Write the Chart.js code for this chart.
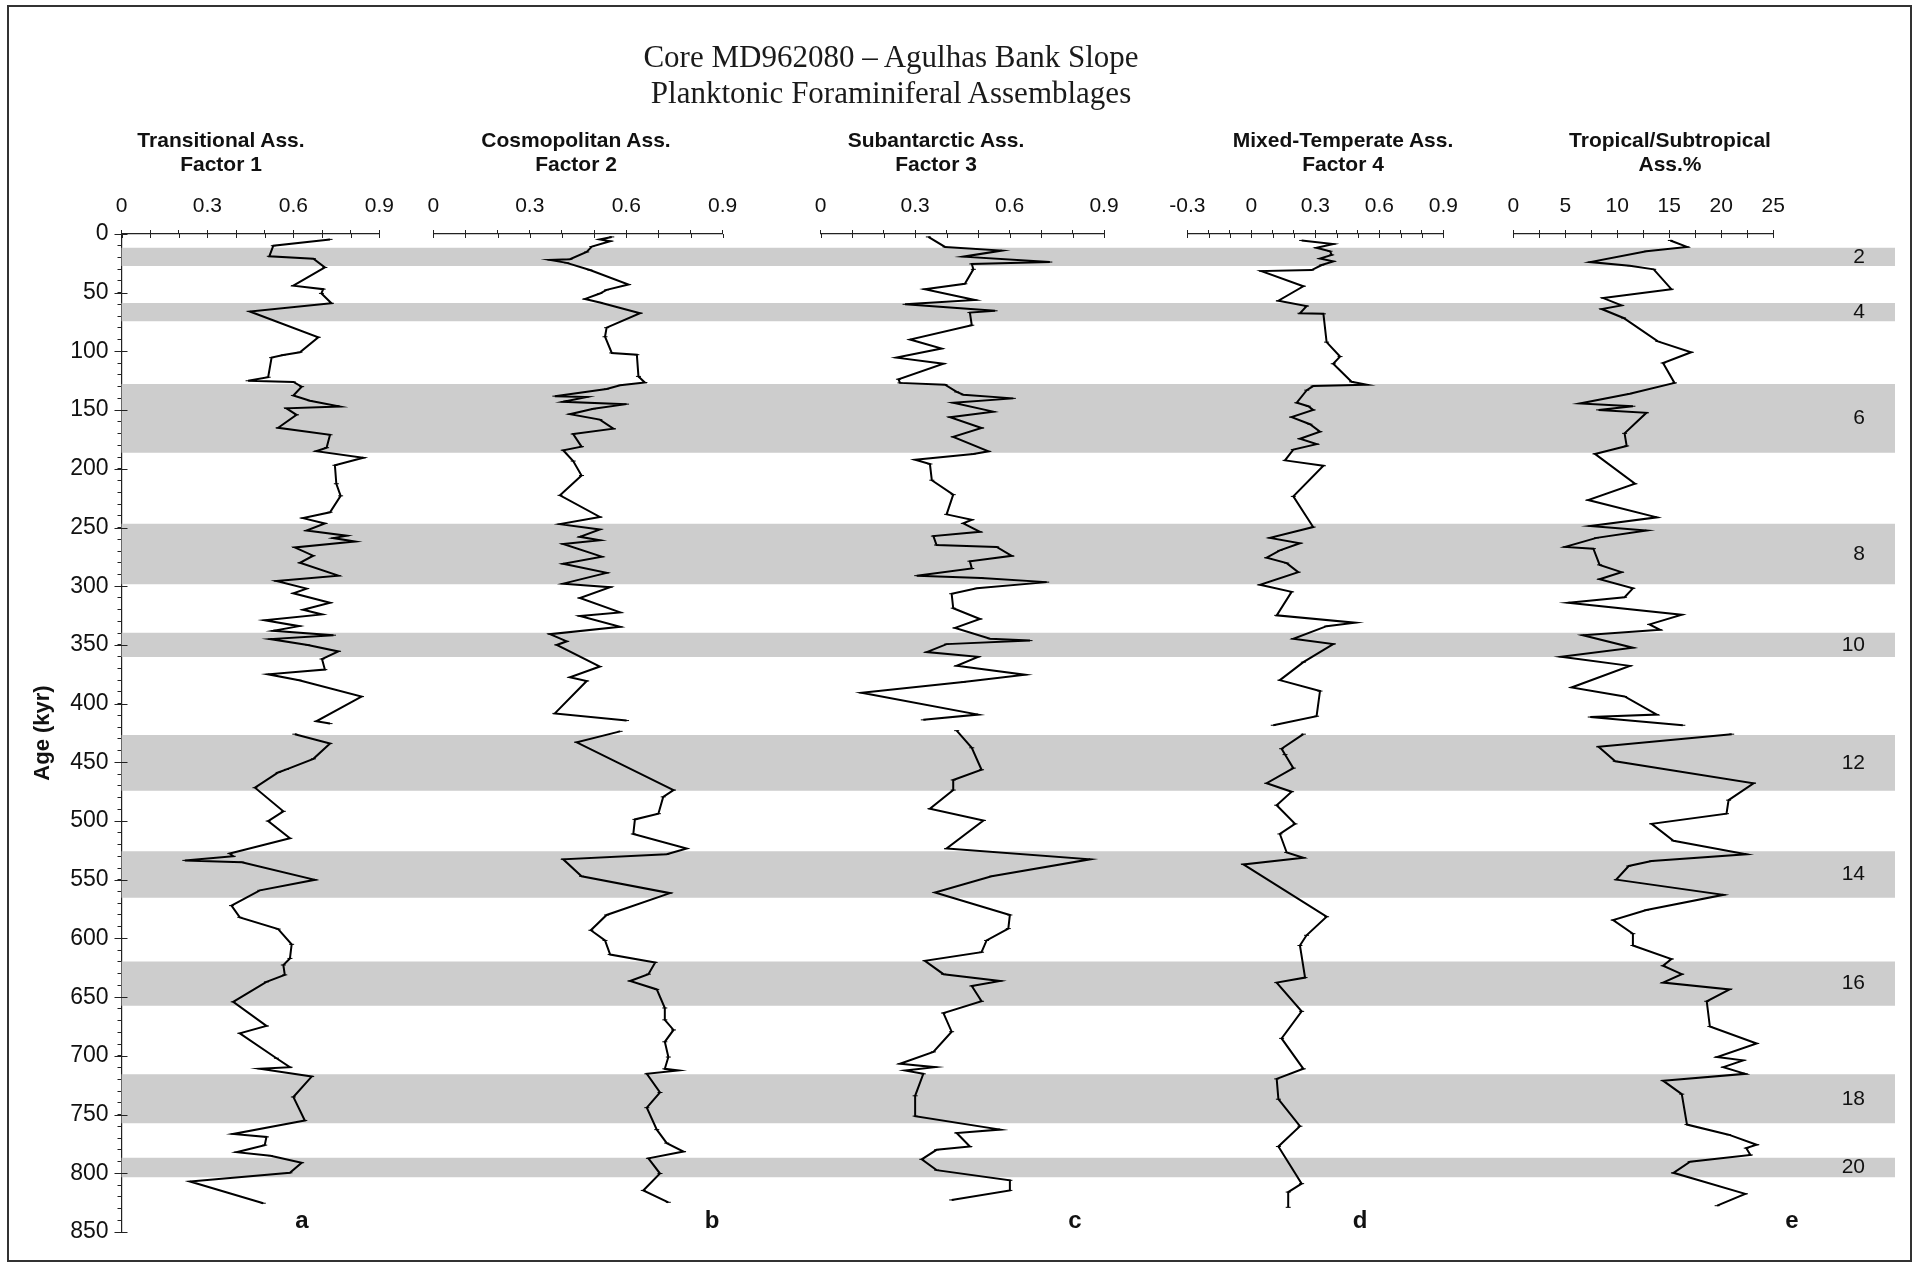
<!DOCTYPE html>
<html>
<head>
<meta charset="utf-8">
<title>Core MD962080 – Agulhas Bank Slope</title>
<script src="https://cdn.jsdelivr.net/npm/chart.js@4.4.1/dist/chart.umd.min.js"></script>
<style>
  html, body { margin: 0; padding: 0; background: #fff; }
  #page { position: relative; width: 1917px; height: 1267px; overflow: hidden; background: #fff;
          font-family: "Liberation Sans", Arial, sans-serif; color: #111; }
  #charts canvas { position: absolute; left: 0; top: 0; }
  .frame { position: absolute; left: 7px; top: 5px; width: 1905px; height: 1257px;
           border: 2px solid #333; box-sizing: border-box; pointer-events: none; }
  .title { position: absolute; font-family: "Liberation Serif", "Times New Roman", serif; font-size: 31px;
           line-height: 36px; text-align: center; white-space: nowrap; transform: translateX(-50%); color: #1a1a1a; }
  .ptitle { position: absolute; font-weight: bold; font-size: 21px; line-height: 24px; text-align: center;
            white-space: nowrap; transform: translateX(-50%); }
  .letter { position: absolute; font-weight: bold; font-size: 24px; line-height: 24px; transform: translateX(-50%); }
</style>
</head>
<body>
<div id="page">
  <div id="charts"></div>
  <div class="frame"></div>
  <div class="title" style="left:891px; top:38.5px;">Core MD962080 – Agulhas Bank Slope<br>Planktonic Foraminiferal Assemblages</div>
  <div class="ptitle" style="left:221px; top:127.5px;">Transitional Ass.<br>Factor 1</div>
  <div class="ptitle" style="left:576px; top:127.5px;">Cosmopolitan Ass.<br>Factor 2</div>
  <div class="ptitle" style="left:936px; top:127.5px;">Subantarctic Ass.<br>Factor 3</div>
  <div class="ptitle" style="left:1343px; top:127.5px;">Mixed-Temperate Ass.<br>Factor 4</div>
  <div class="ptitle" style="left:1670px; top:127.5px;">Tropical/Subtropical<br>Ass.%</div>
  <div class="letter" style="left:302px; top:1208px;">a</div>
  <div class="letter" style="left:712px; top:1208px;">b</div>
  <div class="letter" style="left:1075px; top:1208px;">c</div>
  <div class="letter" style="left:1360px; top:1208px;">d</div>
  <div class="letter" style="left:1792px; top:1208px;">e</div>
</div>
<script>
// ---- Marine isotope stages (glacial intervals, kyr) ----
const bandStart  = [12, 59, 128, 247, 340, 427, 526, 620, 716, 787];
const bandEnd    = [27, 74, 186, 298, 360, 474, 565, 657, 757, 803];
const bandLabels = ['2', '4', '6', '8', '10', '12', '14', '16', '18', '20'];

// ---- a: Transitional assemblage, factor 1 ----
const ageA = [4.6,10,19,21,28.5,44,47,50.6,59,66,88,100.7,103,105.3,122,125,126,130,137.5,142,147,148.5,154,165,171,182,185,190.6,197,212.7,223,237,242,246.5,252.6,257,259,262,267,274,280,291,295.6,302,306,314,320,324,329,334,338,341.7,345,350,355.5,362,371,375,380,394,415,417,420,426,434,447,456,458.6,471.6,491.7,500,514.7,527.7,530,533.5,535,550,559,572,582,592,605,617,622.6,631,637,654,674.5,680.8,702,709.6,711,717.6,735,755,766.5,769,776,782,785,791,799.6,807,825.5];
const valA = [0.728,0.53,0.516,0.67,0.71,0.60,0.704,0.698,0.733,0.448,0.687,0.623,0.565,0.524,0.512,0.442,0.60,0.629,0.60,0.658,0.762,0.576,0.611,0.547,0.728,0.716,0.68,0.844,0.745,0.75,0.765,0.728,0.634,0.71,0.646,0.786,0.74,0.815,0.605,0.669,0.623,0.757,0.541,0.646,0.60,0.728,0.634,0.70,0.50,0.62,0.53,0.74,0.52,0.65,0.757,0.70,0.71,0.512,0.62,0.838,0.68,0.728,null,0.605,0.728,0.67,0.576,0.547,0.466,0.565,0.512,0.588,0.378,0.39,0.221,0.42,0.675,0.483,0.384,0.413,0.547,0.594,0.588,0.565,0.57,0.506,0.39,0.506,0.413,0.541,0.588,0.483,0.664,0.60,0.64,0.39,0.506,0.50,0.402,0.52,0.629,0.588,0.239,0.495];

// ---- b: Cosmopolitan assemblage, factor 2 ----
const ageB = [2.5,4.6,6.1,10.7,15.3,21.5,22.1,24.6,30.7,43,47.6,50.7,55.3,58.3,67.5,79.8,87.5,101.3,102.8,121.3,126.5,128.9,132,138.1,138.8,142.9,144.9,148.9,153.5,158.1,165.8,170.4,181.1,184.2,193.4,205.7,222.6,241,247.1,251.7,257.9,260.9,264,274.8,280.9,288.6,297.8,300.8,310,322.3,325.4,334.6,340.8,346.9,350,368.4,377.6,380.7,408.3,414.4,419,423.6,432.9,473.6,479.4,493.7,498.6,511,523.4,528.3,532.6,547,561.4,580,593,601.7,613.7,620.4,630.4,636.2,643.4,659.2,669.3,677.9,688,701,711,712.4,715.3,731.2,744.1,762.8,774.3,781.5,787.3,800.2,814.6,824.7];
const valB = [0.555,0.518,0.55,0.493,0.477,0.425,0.363,0.415,0.487,0.607,0.539,0.518,0.472,0.518,0.643,0.539,0.534,0.555,0.633,0.638,0.658,0.581,0.539,0.378,0.477,0.404,0.601,0.498,0.425,0.518,0.56,0.435,0.461,0.404,0.435,0.461,0.394,0.518,0.394,0.518,0.456,0.518,0.404,0.524,0.404,0.539,0.404,0.55,0.456,0.581,0.456,0.581,0.363,0.415,0.384,0.518,0.425,0.477,0.378,0.601,null,0.581,0.446,0.747,0.715,0.70,0.627,0.622,0.788,0.726,0.404,0.461,0.736,0.539,0.49,0.534,0.55,0.69,0.669,0.612,0.695,0.72,0.72,0.747,0.72,0.731,0.72,0.762,0.664,0.705,0.664,0.695,0.726,0.778,0.669,0.705,0.653,0.731];

// ---- c: Subantarctic assemblage, factor 3 ----
const ageC = [2.5,11,14.1,19.3,23.9,25.5,30.1,42.4,47,56.2,59.9,65.4,66.9,77.7,89.9,97.6,105.3,110.5,123.7,126.8,128.3,134.5,136.9,140,143.7,151.3,156,165.2,172.8,185.1,187.3,192.2,195.9,209.7,222,238.8,243.4,246.5,253.6,257.3,264.9,266.5,274.1,278.7,284.9,291,293,296.5,301.8,306.4,318.7,327.9,335.5,344.7,346.3,349.3,356.1,360.1,367.8,375.4,381.6,390.8,409.3,413.8,419,423,437.6,456.3,465,473.6,489.4,499.5,523.4,532.6,547,560.8,580,591.6,601.7,611.7,619,630.4,636.2,640.5,653.5,663.5,679.4,696.6,706.7,709.6,712.4,715.3,734,751.3,762.8,765.7,777.2,780,788.1,797.3,806,814.6,822.7];
const valC = [0.342,0.395,0.575,0.453,0.728,0.48,0.485,0.458,0.331,0.49,0.268,0.554,0.474,0.48,0.284,0.384,0.241,0.39,0.247,0.252,0.395,0.432,0.453,0.612,0.421,0.548,0.411,0.511,0.421,0.533,0.485,0.30,0.347,0.353,0.421,0.40,0.48,0.453,0.506,0.358,0.368,0.559,0.607,0.474,0.48,0.305,0.51,0.718,0.496,0.416,0.421,0.506,0.427,0.538,0.665,0.40,0.337,0.50,0.432,0.649,0.453,0.13,0.50,0.326,null,0.432,0.48,0.511,0.421,0.421,0.347,0.517,0.40,0.856,0.543,0.363,0.601,0.596,0.527,0.511,0.331,0.39,0.57,0.48,0.511,0.39,0.416,0.358,0.252,0.363,0.268,0.326,0.30,0.30,0.57,0.432,0.474,0.368,0.321,0.368,0.601,0.601,0.416];

// ---- d: Mixed-temperate assemblage, factor 4 ----
const ageD = [5.5,8.6,11.7,14.7,17.8,20.9,23.3,26.4,30.7,31.6,44.5,56.8,61.4,67.5,68,92.1,104.4,110.5,125.9,128.3,129.5,133,143.7,146.7,149.8,156,162,168.3,174.4,179,183.6,192.8,197.4,223.5,249.6,258.8,263.4,269.5,275.7,280.3,288,298.7,304.8,324.8,331,334,344.7,349.3,364.7,380,389.3,410.7,418.4,421,426,438.4,443.4,454.9,467.8,475,486.5,502.4,511,526.8,531.2,536.9,581.5,597.3,606,633.3,637.6,662.1,685.1,711,719.6,736.9,759.9,777.2,808.8,816,829];
const valD = [0.236,0.384,0.306,0.369,0.377,0.322,0.384,0.33,0.283,0.048,0.244,0.127,0.259,0.228,0.338,0.353,0.416,0.384,0.47,0.54,0.29,0.26,0.213,0.267,0.29,0.189,0.275,0.322,0.228,0.306,0.197,0.158,0.338,0.197,0.29,0.088,0.228,0.134,0.072,0.166,0.22,0.041,0.189,0.119,0.486,0.353,0.197,0.384,0.244,0.134,0.322,0.306,0.103,null,0.244,0.142,0.158,0.197,0.072,0.189,0.119,0.205,0.134,0.166,0.244,-0.037,0.353,0.259,0.228,0.252,0.119,0.236,0.142,0.244,0.119,0.127,0.228,0.127,0.236,0.173,0.173];

// ---- e: Tropical/subtropical assemblage, % ----
const ageE = [5.5,11,14.7,23.9,27,30.1,47,54.6,60.8,63.9,71.5,91.5,100.7,109.9,126.8,136,144.3,146.7,149.8,152.3,169.8,180.5,187.3,212.7,226.6,241.3,248.7,252.6,258.8,266.5,268,281.8,288,294,301.8,309.4,314,324.2,332.5,337.1,341.7,352.4,360.1,367.8,386.2,393.9,409.3,411.4,418.4,422,426,436.8,449.1,467.8,482.2,493.7,502.4,516.8,528.3,534,538.3,549.9,562.8,575.8,584.4,595.9,606,617.5,623.2,630.4,637.6,643.4,653.5,675,689.4,700.9,703.8,709.6,715.3,721.1,732.6,758.5,767.1,775.7,778.6,784.4,790.1,799.6,817.5,827.6];
const valE = [15.1,16.7,12.8,7.4,11.2,13.5,15.2,8.65,10.4,8.5,10.6,13.9,17.1,14.4,15.5,11.2,6.4,11.5,8.2,12.8,10.7,10.9,7.85,11.7,7.2,13.8,7.4,12.8,8.0,5.0,7.7,8.3,10.4,8.3,11.5,10.7,5.3,16.2,13.1,14.1,6.7,11.5,4.6,11.2,5.6,10.7,13.8,7.4,16.3,null,21,8.2,9.8,23.1,20.7,20.5,13.3,15.4,22.4,13.3,11.1,9.9,20.2,12.8,9.6,11.5,11.5,15.2,14.4,16.2,14.4,20.8,18.6,18.9,23.4,19.6,22.1,20.2,22.3,14.4,16.2,16.7,20.7,23.4,22.4,22.8,17.0,15.4,22.3,19.6];

// Shared age axis range (kyr)
const AGE_MIN = 0, AGE_MAX = 850;

// ---- page geometry ----
const W = 1917, H = 1267;
const PLOT_TOP = 234, PLOT_BOTTOM = 1232;
const AXIS_X = 121.5, BAND_RIGHT = 1895;
const INK = '#111', AXIS = '#222', BAND = '#cdcdcd';

Chart.defaults.font.family = '"Liberation Sans", Arial, sans-serif';
Chart.defaults.color = INK;

// Tick marks that cross the axis line: Chart.js draws the outer half,
// this adds the inner half for each tick of the listed scales.
const crossTicks = {
  id: 'crossTicks',
  afterDraw(chart, args, opts) {
    const ctx = chart.ctx;
    ctx.save();
    ctx.strokeStyle = AXIS;
    ctx.lineWidth = 1;
    (opts.axes || []).forEach(id => {
      const s = chart.scales[id];
      if (!s) return;
      s.ticks.forEach(t => {
        if (opts.majorStep) {
          const r = t.value / opts.majorStep;
          if (Math.abs(r - Math.round(r)) > 1e-6) return;
        }
        const p = Math.round(s.getPixelForValue(t.value)) + 0.5;
        ctx.beginPath();
        if (s.isHorizontal()) {
          ctx.moveTo(p, s.bottom);
          ctx.lineTo(p, s.bottom + opts.len);
        } else {
          ctx.moveTo(s.right - (opts.out || 0), p);
          ctx.lineTo(s.right + opts.len, p);
        }
        ctx.stroke();
      });
    });
    ctx.restore();
  }
};

const chartsEl = document.getElementById('charts');
function makeCanvas() {
  const c = document.createElement('canvas');
  c.width = W; c.height = H;
  c.style.width = W + 'px'; c.style.height = H + 'px';
  chartsEl.appendChild(c);
  return c;
}

const common = { responsive: false, animation: false, events: [], devicePixelRatio: 1 };

// ---- background: stage bands, age axis and stage numbers ----
new Chart(makeCanvas(), {
  type: 'bar',
  data: {
    labels: [''],
    datasets: bandStart.map((s, i) => ({
      label: 'MIS ' + bandLabels[i],
      data: [[s, bandEnd[i]]],
      backgroundColor: BAND,
      borderWidth: 0,
      grouped: false,
      barPercentage: 1,
      categoryPercentage: 1
    }))
  },
  options: Object.assign({}, common, {
    layout: { padding: { left: 0, right: W - BAND_RIGHT, top: PLOT_TOP, bottom: H - PLOT_BOTTOM } },
    plugins: {
      legend: { display: false },
      tooltip: { enabled: false },
      crossTicks: { axes: ['y'], len: 6, out: 7, majorStep: 50 }
    },
    scales: {
      x: { type: 'category', display: false, offset: true },
      y: {
        type: 'linear', position: 'left', min: AGE_MIN, max: AGE_MAX, reverse: true,
        afterFit: s => { s.width = AXIS_X; },
        ticks: {
          stepSize: 10, maxTicksLimit: 200, autoSkip: false, padding: 9,
          font: { size: 23 }, color: INK,
          callback: v => (v % 50 === 0 ? String(v) : '')
        },
        grid: { drawOnChartArea: false, tickLength: 4, color: AXIS },
        border: { display: true, color: AXIS, width: 1.2 },
        title: { display: true, text: 'Age (kyr)', color: INK,
                 font: { size: 22, weight: 'bold' }, padding: { top: 30, bottom: 0 } }
      },
      // stage numbers, written inside the right end of each band (drawn above the bands)
      y2: {
        type: 'linear', position: 'right', min: AGE_MIN, max: AGE_MAX, reverse: true,
        afterFit: s => { s.width = 0; },
        afterBuildTicks: s => { s.ticks = bandStart.map((b, i) => ({ value: (b + bandEnd[i]) / 2 })); },
        ticks: { mirror: true, padding: -30, z: 1, autoSkip: false, font: { size: 21 }, color: INK,
                 callback: (v, i) => bandLabels[i] },
        grid: { display: false },
        border: { display: false }
      }
    }
  }),
  plugins: [crossTicks]
});

// ---- the five assemblage records ----
const panels = [
  { name: 'Transitional Ass. Factor 1', ages: ageA, vals: valA, min: 0,    max: 0.9, step: 0.1, every: 0.3, left: 121.5,  right: 379.3 },
  { name: 'Cosmopolitan Ass. Factor 2', ages: ageB, vals: valB, min: 0,    max: 0.9, step: 0.1, every: 0.3, left: 433.3,  right: 722.7 },
  { name: 'Subantarctic Ass. Factor 3', ages: ageC, vals: valC, min: 0,    max: 0.9, step: 0.1, every: 0.3, left: 820.7,  right: 1104 },
  { name: 'Mixed-Temperate Ass. Factor 4', ages: ageD, vals: valD, min: -0.3, max: 0.9, step: 0.1, every: 0.3, left: 1187.3, right: 1443.3 },
  { name: 'Tropical/Subtropical Ass.%', ages: ageE, vals: valE, min: 0,    max: 25,  step: 2.5, every: 5,   left: 1513.3, right: 1773.3 }
];

function onStep(v, every) {
  const r = v / every;
  return Math.abs(r - Math.round(r)) < 1e-6;
}

panels.forEach(p => {
  new Chart(makeCanvas(), {
    type: 'scatter',
    data: {
      datasets: [{
        label: p.name,
        data: p.ages.map((a, i) => ({ x: p.vals[i], y: a })),
        showLine: true,
        spanGaps: false,
        borderColor: '#000',
        borderWidth: 2,
        pointStyle: 'line',
        pointRadius: 2.5,
        pointBorderWidth: 1,
        pointBorderColor: '#000',
        pointHoverRadius: 0
      }]
    },
    options: Object.assign({}, common, {
      layout: { padding: { left: p.left, right: W - p.right, top: 0, bottom: H - PLOT_BOTTOM } },
      plugins: {
        legend: { display: false },
        tooltip: { enabled: false },
        crossTicks: { axes: ['x'], len: 4 }
      },
      scales: {
        x: {
          type: 'linear', position: 'top', min: p.min, max: p.max,
          afterFit: s => { s.height = PLOT_TOP; },
          ticks: {
            stepSize: p.step, autoSkip: false, maxRotation: 0, padding: 11,
            font: { size: 21 }, color: INK,
            callback: v => (onStep(v, p.every) ? String(Math.round(v * 10) / 10) : '')
          },
          grid: { drawOnChartArea: false, tickLength: 4, color: AXIS },
          border: { display: true, color: AXIS, width: 1.2 }
        },
        y: { type: 'linear', display: false, min: AGE_MIN, max: AGE_MAX, reverse: true }
      }
    }),
    plugins: [crossTicks]
  });
});
</script>
</body>
</html>
